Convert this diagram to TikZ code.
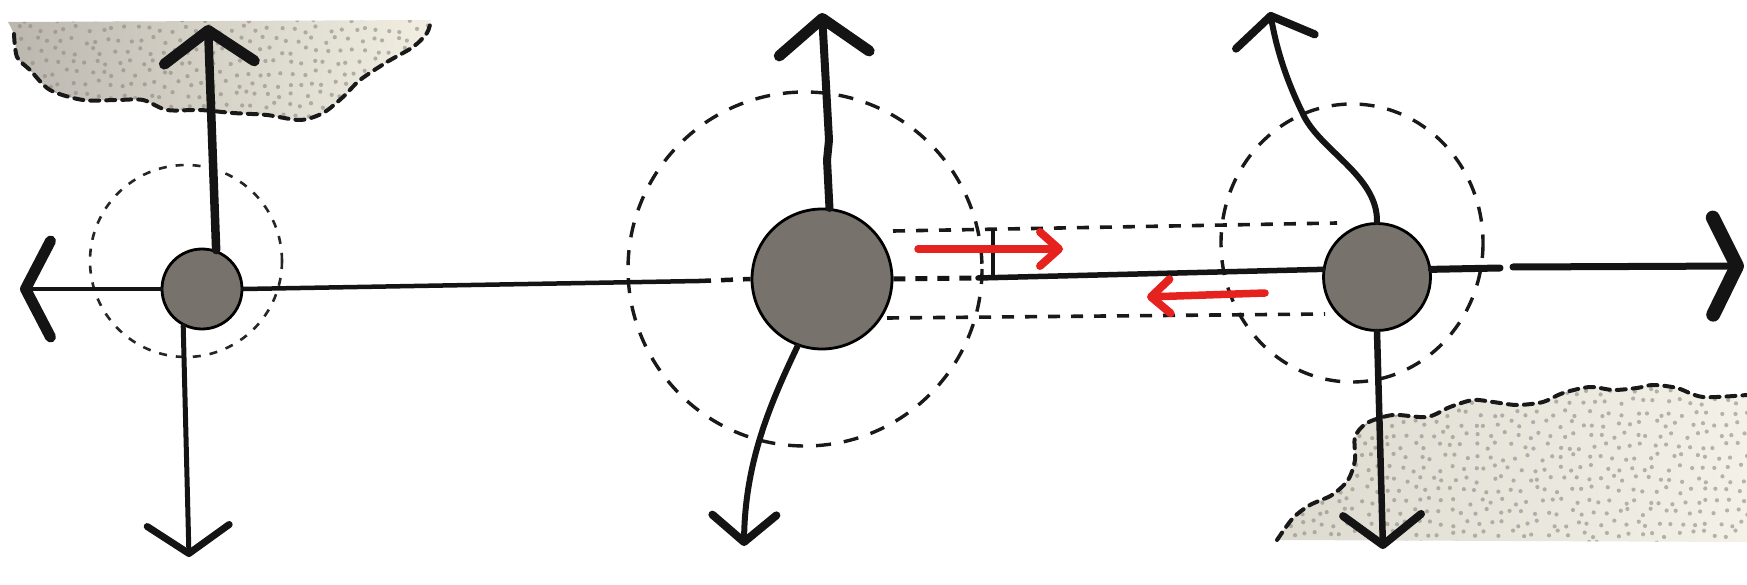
\documentclass[tikz,border=0pt]{standalone}
\usetikzlibrary{arrows.meta}
\definecolor{ballgray}{HTML}{77736C}
\definecolor{redarrow}{HTML}{E6221E}
\definecolor{beigeA}{HTML}{F3F0E3}
\definecolor{grayA}{HTML}{BAB6AE}
\definecolor{grayC}{HTML}{DCD9CF}
\definecolor{beigeC}{HTML}{F4F2E8}
\definecolor{dotgray}{HTML}{8C8882}
\begin{document}
\begin{tikzpicture}[x=1pt,y=-1pt,
  ball/.style={circle,draw=black,line width=2.8pt,fill=ballgray,inner sep=0pt},
  axisline/.style={line width=5pt,line cap=round,black!92},
  barb/.style args={#1/#2/#3}{-{Straight Barb[length=#1pt,width=#2pt,line width=#3pt,round]}},
  redbarb/.style={-{Straight Barb[length=19pt,width=34pt,line width=8pt,round]}},
  redline/.style={redarrow,line width=7.5pt,line cap=round},
  dcircfine/.style={black!85,line width=2.6pt,dash pattern=on 8pt off 9pt},
  dcirc/.style={black!90,line width=3.4pt,dash pattern=on 15pt off 13pt},
  chan/.style={black!90,line width=3.6pt,dash pattern=on 12pt off 11pt},
  blobedge/.style={black!90,line width=4pt,dash pattern=on 9pt off 7pt,line cap=round},
  dotc/.style={dotgray,opacity=0.6}
]
\useasboundingbox (0,0) rectangle (1747,585);
\fill[white] (0,0) rectangle (1747,585);

% ---------- top-left stippled blob ----------
\begin{scope}
  \clip plot[smooth] coordinates {(8,22) (15,37) (17,57) (30,70) (50,90) (83,100) (117,100) (143,100) (167,110) (200,110) (233,113) (267,115) (300,120) (323,113) (343,97) (360,80) (387,62) (413,47) (427,33) (431,20)} -- cycle;
  \shade[left color=grayA,right color=beigeA] (0,0) rectangle (440,130);
  \pgfmathsetseed{7}
  \foreach \i in {0,...,36}{
    \foreach \j in {0,...,9}{
      \fill[dotc] ({\i*12+mod(\j,2)*6+rand*3.5},{18+\j*11+rand*3.5}) circle[radius=2.1];
    }
  }
\end{scope}
\draw[blobedge] plot[smooth] coordinates {(14,34) (17,57) (30,70) (50,90) (83,100) (117,100) (143,100) (167,110) (200,110) (233,113) (267,115) (300,120) (323,113) (343,97) (360,80) (387,62) (413,47) (427,33) (431,20)};

% ---------- bottom-right stippled blob ----------
\begin{scope}
  \clip plot[smooth] coordinates {(1277,540) (1293,518) (1310,505) (1332,495) (1348,480) (1355,460) (1355,437) (1367,423) (1393,415) (1427,417) (1450,407) (1473,400) (1493,402) (1517,405) (1543,402) (1563,393) (1590,387) (1613,390) (1637,388) (1653,385) (1677,388) (1703,397) (1747,395)} -- (1747,542) -- cycle;
  \shade[left color=grayC,right color=beigeC] (1270,380) rectangle (1747,545);
  \pgfmathsetseed{11}
  \foreach \i in {0,...,40}{
    \foreach \j in {0,...,15}{
      \fill[dotc] ({1270+\i*12+mod(\j,2)*6+rand*3.5},{380+\j*11+rand*3.5}) circle[radius=2.1];
    }
  }
\end{scope}
\draw[blobedge] plot[smooth] coordinates {(1277,540) (1293,518) (1310,505) (1332,495) (1348,480) (1355,460) (1355,437) (1367,423) (1393,415) (1427,417) (1450,407) (1473,400) (1493,402) (1517,405) (1543,402) (1563,393) (1590,387) (1613,390) (1637,388) (1653,385) (1677,388) (1703,397) (1747,395)};

% ---------- dashed influence circles ----------
\draw[dcircfine] (186,261) circle[radius=96];
\draw[dcirc] (805,269) circle[radius=177];
\draw[dcirc] (1352,243) circle[x radius=131,y radius=139];

% ---------- channel between B and C ----------
\coordinate (chTL) at (893,231);
\coordinate (chTR) at (1337,223);
\coordinate (chBL) at (887,318);
\coordinate (chBR) at (1325,314);
\coordinate (tickTop) at (993,231);
\coordinate (tickBot) at (993,278);
\coordinate (midS) at (978,278);
\draw[chan] (chTL) -- (chTR);
\draw[chan] (chBL) -- (chBR);

% ---------- nodes ----------
\node[ball,minimum size=80pt] (A) at (202,289) {};
\node[ball,minimum size=140pt] (B) at (822,279) {};
\node[ball,minimum size=107pt] (C) at (1377,277) {};

% ---------- free ends ----------
\coordinate (Aup) at (208,25);
\coordinate (Aleft) at (20,289);
\coordinate (Adown) at (189,557);
\coordinate (ABs) at (699,281);
\coordinate (Bup) at (822,13);
\coordinate (Bdown) at (744,546);
\coordinate (Cup) at (1270,12);
\coordinate (Cdown) at (1383,549);
\coordinate (Cgap1) at (1500,268);
\coordinate (Cgap2) at (1513,267);
\coordinate (Cright) at (1744,266);
\coordinate (r1s) at (918,249);
\coordinate (r1e) at (1063,249);
\coordinate (r2s) at (1265,293);
\coordinate (r2e) at (1147,297);

% ---------- node A connectors ----------
\draw[axisline,line width=8.5pt,barb=32/90/11] (A.70) -- (Aup);
\draw[axisline,line width=4.5pt,barb=25/96/11] (A.west) -- (Aleft);
\draw[axisline,line width=5pt,barb=28/82/7] (A.243) -- (Adown);
\draw[axisline,line width=4.5pt] (A.east) -- (ABs);
\draw[axisline,line width=4.5pt,dash pattern=on 12pt off 10pt,line cap=butt] (ABs) -- (B.west);

% ---------- node B connectors ----------
\draw[axisline,line width=8pt,barb=35/90/11] (B.84) -- (827,160) -- (829,140) -- (Bup);
\draw[axisline,line width=6pt,barb=27/64/8] (B.250) .. controls (772,400) and (745,460) .. (Bdown);
\draw[axisline,dash pattern=on 12pt off 10pt,line cap=butt] (B.east) -- (midS);
\draw[axisline,line width=5.5pt] (midS) -- (C.172);
\draw[axisline,line width=4pt] (tickTop) -- (tickBot);

% ---------- node C connectors ----------
\draw[axisline,line width=6pt,barb=26/80/8] (C.north) .. controls (1378,175) and (1318,150) .. (1302,112) .. controls (1284,75) and (1276,45) .. (Cup);
\draw[axisline,line width=6.5pt,barb=30/78/8] (C.south) -- (Cdown);
\draw[axisline,line width=7pt] (C.8) -- (Cgap1);
\draw[axisline,line width=7pt,barb=24/97/14] (Cgap2) -- (Cright);

% ---------- red flow arrows ----------
\draw[redline,redbarb] (r1s) -- (r1e);
\draw[redline,redbarb] (r2s) -- (r2e);
\end{tikzpicture}
\end{document}
